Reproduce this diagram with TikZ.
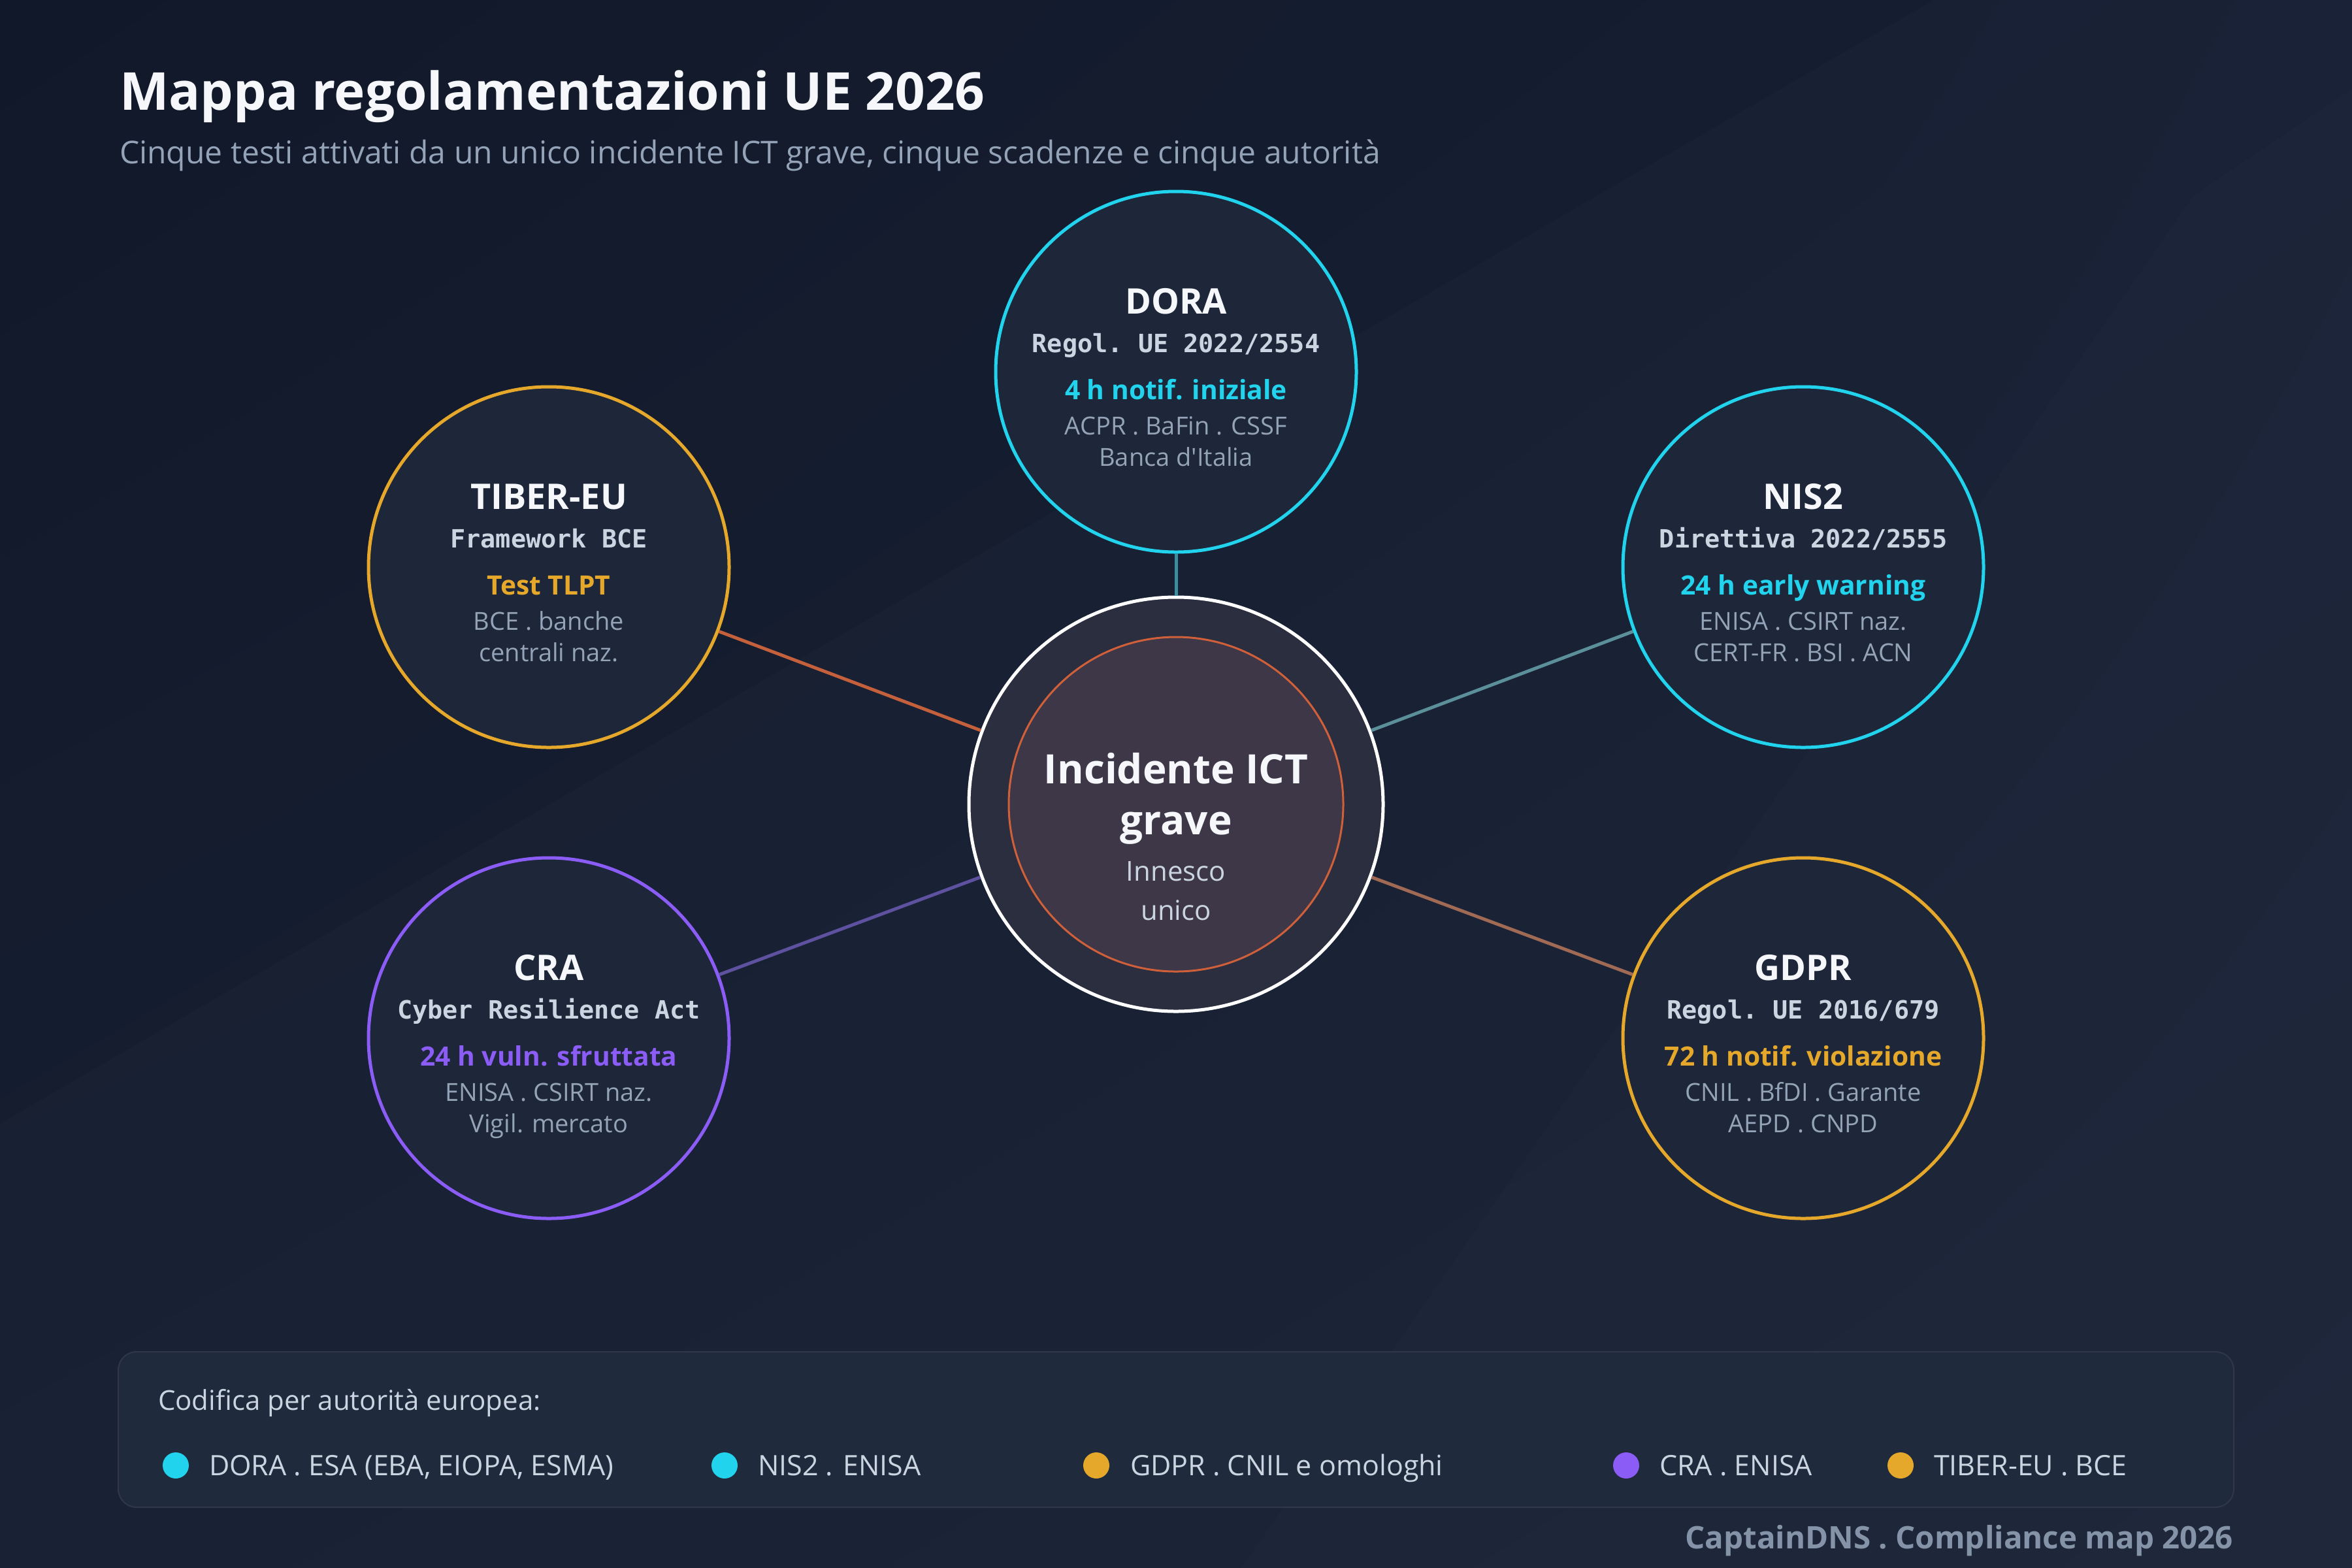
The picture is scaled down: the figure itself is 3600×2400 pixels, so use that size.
\documentclass[tikz,border=0pt]{standalone}
\usepackage{fontspec}
\setmainfont{Open Sans}
\setmonofont{DejaVu Sans Mono}
\usetikzlibrary{positioning,shadings}

\definecolor{bgtl}{HTML}{111829}
\definecolor{bgtr}{HTML}{161F33}
\definecolor{bgbl}{HTML}{161F32}
\definecolor{bgbr}{HTML}{1A2336}
\definecolor{satfill}{HTML}{1D2739}
\definecolor{regcyan}{HTML}{22D3EE}
\definecolor{regamber}{HTML}{E5A82A}
\definecolor{regviolet}{HTML}{8B5CF6}
\definecolor{titlewhite}{HTML}{F5F7FA}
\definecolor{lawgray}{HTML}{CBD5E1}
\definecolor{authgray}{HTML}{94A3B8}
\definecolor{incorange}{HTML}{D0603A}
\definecolor{incouter}{HTML}{2B2E3F}
\definecolor{incinner}{HTML}{3D3748}
\definecolor{linkdora}{HTML}{3B8EA0}
\definecolor{linknis}{HTML}{5B8F9A}
\definecolor{linktiber}{HTML}{C4603C}
\definecolor{linkcra}{HTML}{5E52A0}
\definecolor{linkgdpr}{HTML}{A06A55}
\definecolor{legendfill}{HTML}{1F2A3C}
\definecolor{legendline}{HTML}{2F3748}
\definecolor{footgray}{HTML}{8593A8}

\begin{document}
\begin{tikzpicture}[x = 0.2pt, y = -0.2pt,
  sat/.style = {circle, minimum size = 110.4pt, line width = 1pt, fill = satfill, inner sep = 0pt},
  satname/.style = {anchor = base, inner sep = 0pt, text = titlewhite, font = \fontsize{10.8}{12}\selectfont\bfseries},
  satlaw/.style = {anchor = base, inner sep = 0pt, text = lawgray, font = \fontsize{7.7}{9}\selectfont\ttfamily\bfseries},
  satdue/.style = {anchor = base, inner sep = 0pt, font = \fontsize{8.15}{10}\selectfont\bfseries},
  satauth/.style = {anchor = base, inner sep = 0pt, text = authgray, font = \fontsize{7.6}{9}\selectfont},
  link/.style = {line width = 1pt},
  legdot/.style = {circle, minimum size = 8pt, inner sep = 0pt},
  legtext/.style = {anchor = base west, inner sep = 0pt, text = lawgray, font = \fontsize{8.6}{10}\selectfont}
]
\useasboundingbox (0,0) rectangle (3600,2400);
\shade[upper left = bgtl, upper right = bgtr, lower left = bgbl, lower right = bgbr] (0,0) rectangle (3600,2400);
% faint diagonal bands
\fill[white, opacity = 0.015] (0,1720) -- (2960,0) -- (3600,0) -- (3600,2400) -- (0,2400) -- cycle;
\fill[white, opacity = 0.012] (3357,300) -- (3600,136) -- (3600,2400) -- (1900,2400) -- cycle;

% title
\node[anchor = base west, inner sep = 0pt, text = titlewhite, font = \fontsize{16}{19}\selectfont\bfseries] (title) at (182,168) {Mappa regolamentazioni UE 2026};
\node[anchor = base west, inner sep = 0pt, text = authgray, font = \fontsize{9.6}{11}\selectfont] (subtitle) at (182,250) {Cinque testi attivati da un unico incidente ICT grave, cinque scadenze e cinque autorità};

% central incident
\node[circle, minimum size = 126.8pt, fill = incouter, draw = white, line width = 1pt] (incid) at (1800,1231) {};
\node[circle, minimum size = 102.4pt, fill = incinner, draw = incorange, line width = 0.6pt] (incidin) at (1800,1231) {};
\node[anchor = base, inner sep = 0pt, text = titlewhite, font = \fontsize{12.4}{15}\selectfont\bfseries] (inc-a) at (1800,1199) {Incidente ICT};
\node[anchor = base, inner sep = 0pt, text = titlewhite, font = \fontsize{12.4}{15}\selectfont\bfseries] (inc-b) at (1800,1277) {grave};
\node[anchor = base, inner sep = 0pt, text = lawgray, font = \fontsize{8.4}{10}\selectfont] (inc-c) at (1800,1348) {Innesco};
\node[anchor = base, inner sep = 0pt, text = lawgray, font = \fontsize{8.4}{10}\selectfont] (inc-d) at (1800,1408) {unico};

% regulations
\node[sat, draw = regcyan] (dora) at (1800,569) {};
\node[satname] (dora-a) at (1800,480) {DORA};
\node[satlaw] (dora-b) at (1800,539) {Regol. UE 2022/2554};
\node[satdue, text = regcyan] (dora-c) at (1800,611) {4 h notif. iniziale};
\node[satauth] (dora-d) at (1800,665) {ACPR . BaFin . CSSF};
\node[satauth] (dora-e) at (1800,713) {Banca d\textquotesingle Italia};

\node[sat, draw = regamber] (tiber) at (840,868) {};
\node[satname] (tiber-a) at (840,779) {TIBER-EU};
\node[satlaw] (tiber-b) at (840,838) {Framework BCE};
\node[satdue, text = regamber] (tiber-c) at (840,910) {Test TLPT};
\node[satauth] (tiber-d) at (840,964) {BCE . banche};
\node[satauth] (tiber-e) at (840,1012) {centrali naz.};

\node[sat, draw = regcyan] (nis) at (2760,868) {};
\node[satname] (nis-a) at (2760,779) {NIS2};
\node[satlaw] (nis-b) at (2760,838) {Direttiva 2022/2555};
\node[satdue, text = regcyan] (nis-c) at (2760,910) {24 h early warning};
\node[satauth] (nis-d) at (2760,964) {ENISA . CSIRT naz.};
\node[satauth] (nis-e) at (2760,1012) {CERT-FR . BSI . ACN};

\node[sat, draw = regviolet] (cra) at (840,1589) {};
\node[satname] (cra-a) at (840,1500) {CRA};
\node[satlaw] (cra-b) at (840,1559) {Cyber Resilience Act};
\node[satdue, text = regviolet] (cra-c) at (840,1631) {24 h vuln. sfruttata};
\node[satauth] (cra-d) at (840,1685) {ENISA . CSIRT naz.};
\node[satauth] (cra-e) at (840,1733) {Vigil. mercato};

\node[sat, draw = regamber] (gdpr) at (2760,1589) {};
\node[satname] (gdpr-a) at (2760,1500) {GDPR};
\node[satlaw] (gdpr-b) at (2760,1559) {Regol. UE 2016/679};
\node[satdue, text = regamber] (gdpr-c) at (2760,1631) {72 h notif. violazione};
\node[satauth] (gdpr-d) at (2760,1685) {CNIL . BfDI . Garante};
\node[satauth] (gdpr-e) at (2760,1733) {AEPD . CNPD};

% connectors
\draw[link, linkdora] (incid) -- (dora);
\draw[link, linktiber] (incid) -- (tiber);
\draw[link, linknis] (incid) -- (nis);
\draw[link, linkcra] (incid) -- (cra);
\draw[link, linkgdpr] (incid) -- (gdpr);

% legend
\draw[fill = legendfill, draw = legendline, line width = 0.4pt, rounded corners = 5.6pt] (181,2069) rectangle (3419,2307);
\node[anchor = base west, inner sep = 0pt, text = lawgray, font = \fontsize{8.4}{10}\selectfont] (leg-head) at (241,2158) {Codifica per autorità europea:};
\node[legdot, fill = regcyan] (leg-dora) at (269,2243) {};
\node[legtext] (leg-dora-t) at (319,2258) {DORA . ESA (EBA, EIOPA, ESMA)};
\node[legdot, fill = regcyan] (leg-nis) at (1109,2243) {};
\node[legtext] (leg-nis-t) at (1159,2258) {NIS2 . ENISA};
\node[legdot, fill = regamber] (leg-gdpr) at (1678,2243) {};
\node[legtext] (leg-gdpr-t) at (1729,2258) {GDPR . CNIL e omologhi};
\node[legdot, fill = regviolet] (leg-cra) at (2489,2243) {};
\node[legtext] (leg-cra-t) at (2539,2258) {CRA . ENISA};
\node[legdot, fill = regamber] (leg-tiber) at (2909,2243) {};
\node[legtext] (leg-tiber-t) at (2959,2258) {TIBER-EU . BCE};

\node[anchor = base east, inner sep = 0pt, text = footgray, font = \fontsize{9.5}{11}\selectfont\bfseries] (footer) at (3419,2370) {CaptainDNS . Compliance map 2026};
\end{tikzpicture}
\end{document}
